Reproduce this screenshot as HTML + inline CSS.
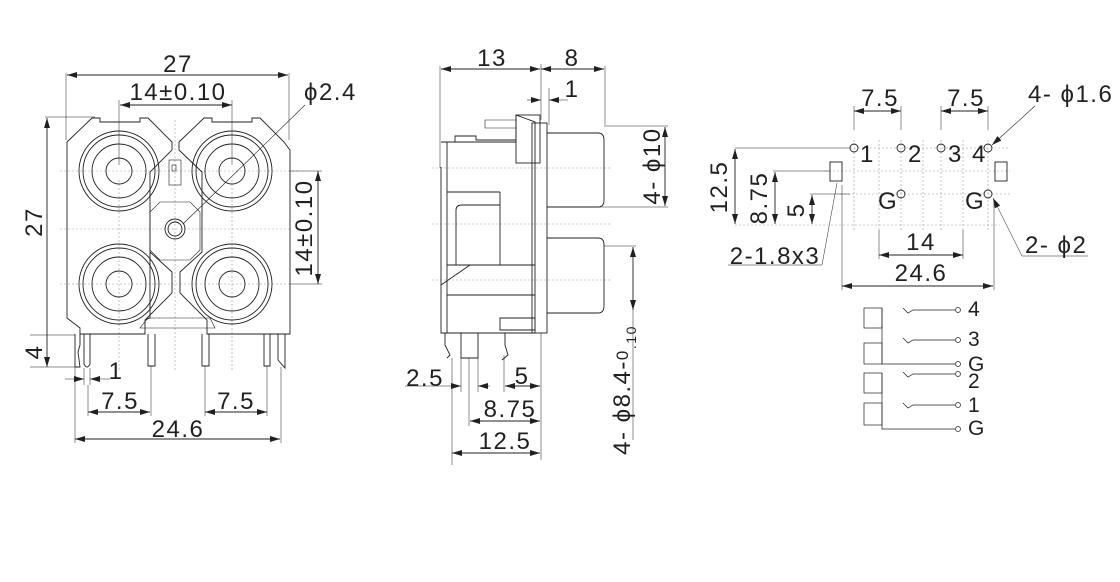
<!DOCTYPE html>
<html><head><style>
html,body{margin:0;padding:0;background:#fff}
svg{display:block}
text{font-family:"Liberation Sans",sans-serif;fill:#231f20;letter-spacing:1.5px}
</style></head><body>
<svg width="1120" height="582" viewBox="0 0 1120 582" xmlns="http://www.w3.org/2000/svg">
<defs>
<marker id="a" viewBox="0 0 10 6" refX="10" refY="3" markerWidth="10" markerHeight="6" orient="auto-start-reverse" markerUnits="userSpaceOnUse"><path d="M0,0 L10,3 L0,6 z" fill="#231f20"/></marker>
</defs>
<g stroke="#231f20" stroke-width="0.9" fill="none">
<!-- LEFT VIEW -->
<g stroke="#999" stroke-width="0.6" stroke-dasharray="2,2">
<line x1="60" y1="171" x2="300" y2="171"/><line x1="60" y1="229" x2="290" y2="229"/><line x1="60" y1="284" x2="290" y2="284"/>
<line x1="119" y1="180" x2="119" y2="370"/><line x1="232" y1="180" x2="232" y2="370"/><line x1="175" y1="120" x2="175" y2="370"/>
</g>
<line x1="67" y1="75" x2="288" y2="75" marker-start="url(#a)" marker-end="url(#a)"/>
<line x1="66" y1="73" x2="66" y2="140" stroke-width="0.5"/><line x1="289" y1="73" x2="289" y2="140" stroke-width="0.5"/>
<line x1="120" y1="105" x2="232" y2="105" marker-start="url(#a)" marker-end="url(#a)"/>
<line x1="119" y1="100" x2="119" y2="165" stroke-width="0.5"/><line x1="232" y1="100" x2="232" y2="165" stroke-width="0.5"/>
<line x1="305" y1="105" x2="183" y2="224" stroke-width="0.6"/>
<line x1="47" y1="118" x2="47" y2="367" marker-start="url(#a)" marker-end="url(#a)"/>
<line x1="45" y1="117" x2="95" y2="117" stroke-width="0.5"/>
<line x1="318" y1="171" x2="318" y2="284" marker-start="url(#a)" marker-end="url(#a)"/>
<line x1="290" y1="171" x2="322" y2="171" stroke-width="0.5"/><line x1="290" y1="284" x2="322" y2="284" stroke-width="0.5"/>
<line x1="30" y1="335" x2="75" y2="335" stroke-width="0.5"/><line x1="30" y1="367" x2="75" y2="367" stroke-width="0.5"/>
<path d="M67,142 L92,118 L100,118 L100,122 L140,122 L140,118 L148,118 L172,142 L172,150 L150,172 L150,252 L172,272 L172,293 L145,320 L145,334 L80,334 L80,328 L67,318 Z" />
<path d="M179,142 L204,118 L212,118 L212,122 L252,122 L252,118 L260,118 L284,142 L290,150 L290,334 L207,334 L207,320 L180,293 L180,272 L202,252 L202,172 L179,150 Z"/>
<path d="M150,252 L150,318 L145,320"/>
<path d="M148,318 L210,318 L215,328 L140,328 Z" stroke-width="0.6"/>
<rect x="169" y="160" width="12" height="25" stroke-width="0.6"/><rect x="172" y="165" width="4" height="6" stroke-width="0.6"/>
<path d="M160,202 L190,202 L200,212 L200,250 L190,260 L160,260 L150,250 L150,212 Z" stroke-width="0.6"/>
<circle cx="175" cy="229" r="10"/><circle cx="175" cy="229" r="7"/>
<g>
<circle cx="119" cy="171" r="40"/><circle cx="119" cy="171" r="36"/><circle cx="119" cy="171" r="27"/><circle cx="119" cy="171" r="13"/>
<circle cx="232" cy="171" r="40"/><circle cx="232" cy="171" r="36"/><circle cx="232" cy="171" r="27"/><circle cx="232" cy="171" r="13"/>
<circle cx="119" cy="284" r="40"/><circle cx="119" cy="284" r="36"/><circle cx="119" cy="284" r="27"/><circle cx="119" cy="284" r="13"/>
<circle cx="232" cy="284" r="40"/><circle cx="232" cy="284" r="36"/><circle cx="232" cy="284" r="27"/><circle cx="232" cy="284" r="13"/>
</g>
<path d="M75,334 L75,367 L80,367 L78,352 L80,345 L80,334"/>
<path d="M84,334 L84,364 Q87,370 90,364 L90,334"/>
<path d="M148,334 L148,366 L155,366 L155,334"/>
<path d="M202,334 L202,366 L209,366 L209,334"/>
<path d="M264,334 L264,366 L270,366 L270,334"/>
<path d="M278,334 L278,360 L285,368 L285,334"/>
<line x1="65" y1="379" x2="84" y2="379" stroke-width="0.5" marker-end="url(#a)"/>
<line x1="110" y1="379" x2="90" y2="379" stroke-width="0.5" marker-end="url(#a)"/>
<line x1="84" y1="368" x2="84" y2="385" stroke-width="0.5"/><line x1="90" y1="368" x2="90" y2="385" stroke-width="0.5"/>
<line x1="88" y1="412" x2="150" y2="412" marker-start="url(#a)" marker-end="url(#a)"/>
<line x1="88" y1="385" x2="88" y2="416" stroke-width="0.5"/><line x1="151" y1="366" x2="151" y2="416" stroke-width="0.5"/>
<line x1="205" y1="412" x2="267" y2="412" marker-start="url(#a)" marker-end="url(#a)"/>
<line x1="205" y1="366" x2="205" y2="416" stroke-width="0.5"/><line x1="267" y1="366" x2="267" y2="416" stroke-width="0.5"/>
<line x1="75" y1="439" x2="280" y2="439" marker-start="url(#a)" marker-end="url(#a)"/>
<line x1="75" y1="367" x2="75" y2="443" stroke-width="0.5"/><line x1="281" y1="367" x2="281" y2="443" stroke-width="0.5"/>

<!-- MIDDLE VIEW -->
<g stroke="#999" stroke-width="0.6" stroke-dasharray="2,2">
<line x1="432" y1="168" x2="610" y2="168"/><line x1="432" y1="224" x2="610" y2="224"/><line x1="432" y1="280" x2="610" y2="280"/>
</g>
<line x1="441" y1="69" x2="540" y2="69" marker-start="url(#a)" marker-end="url(#a)"/>
<line x1="541" y1="69" x2="604" y2="69" marker-start="url(#a)" marker-end="url(#a)"/>
<line x1="440" y1="66" x2="440" y2="168" stroke-width="0.5"/><line x1="541" y1="64" x2="541" y2="120" stroke-width="0.5"/><line x1="605" y1="66" x2="605" y2="125" stroke-width="0.5"/>
<line x1="527" y1="100" x2="541" y2="100" marker-end="url(#a)" stroke-width="0.6"/><line x1="568" y1="100" x2="549" y2="100" marker-end="url(#a)" stroke-width="0.6"/>
<line x1="549" y1="88" x2="549" y2="125" stroke-width="0.5"/>
<path d="M441,167 L441,333 L535,333 L535,122 L516,115 L516,140 L476,140 L476,136 L455,136 L455,142"/>
<rect x="516" y="115" width="24" height="48"/>
<rect x="532" y="123" width="15" height="210"/>
<path d="M547,133 L598,133 Q604,133 604,140 L604,200 Q604,207 598,207 L547,207"/>
<path d="M547,238 L598,238 Q604,238 604,245 L604,306 Q604,313 598,313 L547,313"/>
<line x1="441" y1="142" x2="516" y2="142"/><line x1="447" y1="142" x2="447" y2="333"/>
<line x1="447" y1="192" x2="500" y2="192"/><line x1="500" y1="192" x2="500" y2="265"/>
<line x1="447" y1="265" x2="535" y2="265"/><line x1="447" y1="295" x2="535" y2="295"/>
<path d="M456,265 L456,210 Q456,205 462,205 L500,205"/>
<line x1="441" y1="285" x2="470" y2="265"/>
<path d="M500,318 L535,318 L535,330 L500,330 Z"/>
<path d="M485,120 L516,120 L516,128 L485,128 Z" stroke-width="0.6"/>
<path d="M445,333 L445,345 L450,355 L447,358"/>
<path d="M461,333 L461,358 L478,358 L478,333"/>
<path d="M505,333 L505,345 L508,355 L502,360"/>
<line x1="665" y1="127" x2="665" y2="206" marker-start="url(#a)" marker-end="url(#a)"/>
<line x1="604" y1="126" x2="668" y2="126" stroke-width="0.5"/><line x1="555" y1="207" x2="668" y2="207" stroke-width="0.5"/>
<line x1="633" y1="247" x2="633" y2="310" marker-start="url(#a)" marker-end="url(#a)"/>
<line x1="604" y1="246" x2="636" y2="246" stroke-width="0.5"/><line x1="633" y1="310" x2="633" y2="440" stroke-width="0.5"/>
<line x1="405" y1="386" x2="461" y2="386" stroke-width="0.5" marker-end="url(#a)"/>
<line x1="490" y1="386" x2="478" y2="386" stroke-width="0.5" marker-end="url(#a)"/>
<line x1="461" y1="358" x2="461" y2="392" stroke-width="0.5"/><line x1="478" y1="358" x2="478" y2="392" stroke-width="0.5"/>
<line x1="505" y1="386" x2="540" y2="386" marker-start="url(#a)" marker-end="url(#a)"/>
<line x1="504" y1="355" x2="504" y2="392" stroke-width="0.5"/><line x1="541" y1="333" x2="541" y2="460" stroke-width="0.5"/>
<line x1="470" y1="421" x2="540" y2="421" marker-start="url(#a)" marker-end="url(#a)"/>
<line x1="469" y1="358" x2="469" y2="426" stroke-width="0.5"/>
<line x1="452" y1="453" x2="540" y2="453" marker-start="url(#a)" marker-end="url(#a)"/>
<line x1="452" y1="358" x2="452" y2="465" stroke-width="0.5"/>

<!-- RIGHT VIEW -->
<g stroke="#999" stroke-width="0.6" stroke-dasharray="2,2">
<line x1="850" y1="148" x2="1010" y2="148"/><line x1="825" y1="171" x2="1010" y2="171"/><line x1="840" y1="194" x2="1012" y2="194"/><line x1="735" y1="225" x2="1000" y2="225"/>
<line x1="854" y1="140" x2="854" y2="230"/><line x1="879" y1="140" x2="879" y2="230"/><line x1="901" y1="140" x2="901" y2="230"/><line x1="923" y1="140" x2="923" y2="230"/><line x1="941" y1="140" x2="941" y2="230"/><line x1="963" y1="140" x2="963" y2="230"/><line x1="988" y1="140" x2="988" y2="230"/>
</g>
<line x1="854" y1="111" x2="901" y2="111" marker-start="url(#a)" marker-end="url(#a)"/>
<line x1="854" y1="106" x2="854" y2="130" stroke-width="0.5"/><line x1="901" y1="106" x2="901" y2="130" stroke-width="0.5"/>
<line x1="941" y1="111" x2="988" y2="111" marker-start="url(#a)" marker-end="url(#a)"/>
<line x1="941" y1="106" x2="941" y2="130" stroke-width="0.5"/><line x1="988" y1="106" x2="988" y2="130" stroke-width="0.5"/>
<line x1="1035" y1="106" x2="992" y2="145" stroke-width="0.6" marker-end="url(#a)"/>
<circle cx="854" cy="148" r="4"/><circle cx="901" cy="148" r="4"/><circle cx="941" cy="148" r="4"/><circle cx="988" cy="148" r="4"/>
<circle cx="901" cy="194" r="4"/><circle cx="988" cy="194" r="4"/>
<rect x="830" y="162" width="12" height="19"/><rect x="995" y="162" width="12" height="19"/>
<line x1="735" y1="148" x2="850" y2="148" stroke-width="0.5"/>
<line x1="735" y1="149" x2="735" y2="224" marker-start="url(#a)" marker-end="url(#a)"/>
<line x1="773" y1="171" x2="830" y2="171" stroke-width="0.5"/>
<line x1="775" y1="172" x2="775" y2="224" marker-start="url(#a)" marker-end="url(#a)"/>
<line x1="810" y1="194" x2="850" y2="194" stroke-width="0.5"/>
<line x1="812" y1="195" x2="812" y2="224" marker-start="url(#a)" marker-end="url(#a)"/>
<line x1="728" y1="265" x2="822" y2="265" stroke-width="0.5"/><line x1="822" y1="265" x2="837" y2="183" stroke-width="0.5"/>
<line x1="879" y1="230" x2="879" y2="259" stroke-width="0.5"/><line x1="963" y1="230" x2="963" y2="259" stroke-width="0.5"/>
<line x1="879" y1="255" x2="963" y2="255" marker-start="url(#a)" marker-end="url(#a)"/>
<line x1="842" y1="185" x2="842" y2="290" stroke-width="0.5"/><line x1="994" y1="200" x2="994" y2="290" stroke-width="0.5"/>
<line x1="842" y1="286" x2="993" y2="286" marker-start="url(#a)" marker-end="url(#a)"/>
<line x1="1088" y1="256" x2="1022" y2="256" stroke-width="0.5"/><line x1="1022" y1="256" x2="993" y2="198" stroke-width="0.5" marker-end="url(#a)"/>
<g stroke-width="0.7">
<rect x="864" y="308" width="18" height="20"/><rect x="864" y="343" width="18" height="21"/>
<rect x="864" y="373" width="18" height="20"/><rect x="864" y="403" width="18" height="22"/>
<path d="M882,308 L882,364 L955,364"/><path d="M882,373 L882,429 L955,429"/>
<path d="M903,308 L908,313 L913,310 L955,310"/><path d="M903,338 L908,343 L913,340 L955,340"/>
<path d="M903,372 L908,377 L913,374 L955,374"/><path d="M903,403 L908,408 L913,405 L955,405"/>
<circle cx="958" cy="310" r="2.5"/><circle cx="958" cy="340" r="2.5"/><circle cx="958" cy="364" r="2.5"/>
<circle cx="958" cy="374" r="2.5"/><circle cx="958" cy="405" r="2.5"/><circle cx="958" cy="429" r="2.5"/>
</g>
</g>
<!-- TEXT -->
<g font-size="24">
<text x="178" y="72" text-anchor="middle">27</text>
<text x="178" y="100" text-anchor="middle">14±0.10</text>
<text x="304" y="100">ϕ2.4</text>
<text transform="translate(42,222) rotate(-90)" text-anchor="middle">27</text>
<text transform="translate(312,228) rotate(-90)" text-anchor="middle">14±0.10</text>
<text transform="translate(42,352) rotate(-90)" text-anchor="middle">4</text>
<text x="116" y="379" text-anchor="middle">1</text>
<text x="120" y="409" text-anchor="middle">7.5</text>
<text x="236" y="409" text-anchor="middle">7.5</text>
<text x="178" y="437" text-anchor="middle">24.6</text>
<text x="492" y="66" text-anchor="middle">13</text>
<text x="572" y="66" text-anchor="middle">8</text>
<text x="572" y="97" text-anchor="middle">1</text>
<text transform="translate(660,166) rotate(-90)" text-anchor="middle">4- ϕ10</text>
<text transform="translate(630,390) rotate(-90)" text-anchor="middle">4- ϕ8.4-<tspan font-size="17" dy="-2">0</tspan><tspan font-size="14" dy="8">.10</tspan></text>
<text x="425" y="386" text-anchor="middle">2.5</text>
<text x="522" y="384" text-anchor="middle">5</text>
<text x="510" y="417" text-anchor="middle">8.75</text>
<text x="505" y="449" text-anchor="middle">12.5</text>
<text x="880" y="106" text-anchor="middle">7.5</text>
<text x="966" y="106" text-anchor="middle">7.5</text>
<text x="1028" y="102">4- ϕ1.6</text>
<text x="860" y="162">1</text><text x="908" y="162">2</text><text x="948" y="162">3</text><text x="972" y="162">4</text>
<text x="878" y="209">G</text><text x="965" y="209">G</text>
<text transform="translate(727,187) rotate(-90)" text-anchor="middle">12.5</text>
<text transform="translate(767,198) rotate(-90)" text-anchor="middle">8.75</text>
<text transform="translate(804,210) rotate(-90)" text-anchor="middle">5</text>
<text x="775" y="264" text-anchor="middle">2-1.8x3</text>
<text x="921" y="250" text-anchor="middle">14</text>
<text x="921" y="281" text-anchor="middle">24.6</text>
<text x="1025" y="253">2- ϕ2</text>
<text x="968" y="316" font-size="21">4</text>
<text x="968" y="346" font-size="21">3</text>
<text x="968" y="371" font-size="21">G</text>
<text x="968" y="388" font-size="21">2</text>
<text x="968" y="412" font-size="21">1</text>
<text x="968" y="435" font-size="21">G</text>
</g>
</svg>
</body></html>
